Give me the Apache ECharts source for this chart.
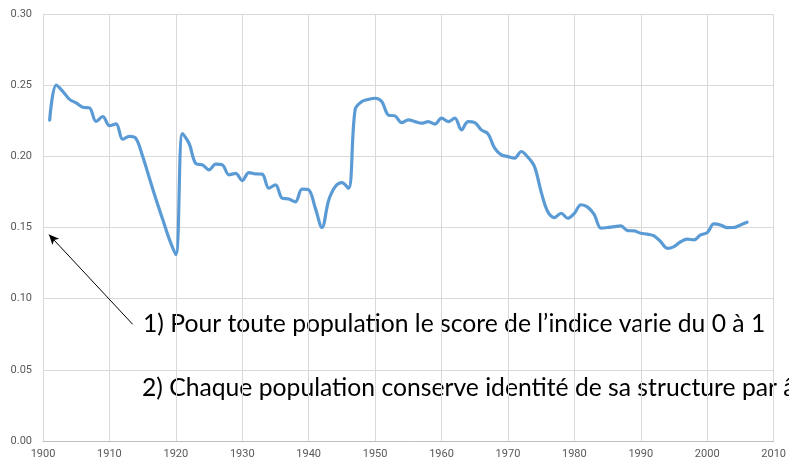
<!DOCTYPE html>
<html>
<head>
<meta charset="utf-8">
<script src="https://cdn.jsdelivr.net/npm/echarts@6/dist/echarts.min.js"></script>
<style>
html,body{margin:0;padding:0;background:#fff;}
#chart{width:789px;height:462px;}
</style>
</head>
<body>
<div id="chart"></div>
<script>
// ---- data ----
const years = [1901,1902,1903,1904,1905,1906,1907,1908,1909,1910,
  1911,1912,1913,1914,1915,1916,1917,1918,1919,1920,
  1921,1922,1923,1924,1925,1926,1927,1928,1929,1930,
  1931,1932,1933,1934,1935,1936,1937,1938,1939,1940,
  1941,1942,1943,1944,1945,1946,1947,1948,1949,1950,
  1951,1952,1953,1954,1955,1956,1957,1958,1959,1960,
  1961,1962,1963,1964,1965,1966,1967,1968,1969,1970,
  1971,1972,1973,1974,1975,1976,1977,1978,1979,1980,
  1981,1982,1983,1984,1985,1986,1987,1988,1989,1990,
  1991,1992,1993,1994,1995,1996,1997,1998,1999,2000,
  2001,2002,2003,2004,2005,2006];
const values = [0.2255,0.250,0.2455,0.240,0.2375,0.2345,0.234,0.2245,0.228,0.2215,
  0.2228,0.212,0.214,0.2125,0.200,0.185,0.170,0.156,0.142,0.131,
  0.216,0.209,0.195,0.194,0.1905,0.1945,0.194,0.187,0.188,0.183,
  0.1886,0.1877,0.1875,0.1776,0.180,0.1706,0.170,0.168,0.177,0.1765,
  0.1636,0.150,0.169,0.1787,0.1815,0.1775,0.233,0.2385,0.240,0.2408,
  0.2385,0.229,0.2284,0.2237,0.2256,0.2244,0.2233,0.2244,0.2226,0.2268,
  0.2244,0.2268,0.2186,0.2244,0.2237,0.2186,0.2158,0.2057,0.201,0.1998,
  0.1987,0.2034,0.1994,0.1928,0.175,0.161,0.157,0.160,0.1565,0.160,
  0.166,0.1643,0.159,0.1495,0.150,0.1506,0.1511,0.1478,0.1476,0.146,
  0.1453,0.1441,0.140,0.1354,0.1366,0.140,0.1418,0.1413,0.1448,0.1464,
  0.1525,0.1518,0.1499,0.150,0.1518,0.1537];
const xTickLabels = ['1900','1910','1920','1930','1940','1950','1960','1970','1980','1990','2000','2010'];
const yTickLabels = ['0.00','0.05','0.10','0.15','0.20','0.25','0.30'];
const note1 = '1) Pour toute population le score de l\u2019indice varie du 0 \u00e0 1';
const note2 = '2) Chaque population conserve identit\u00e9 de sa structure par \u00e2ge';
const arrowFrom = [1913.5, 0.082];
const arrowTo = [1900.9, 0.145];

// ---- chart ----
const chart = echarts.init(document.getElementById('chart'), null, {renderer:'canvas'});
const seriesData = years.map((y,i)=>[y, values[i]]);
const labelFont = 'Roboto, "Liberation Sans", sans-serif';

chart.setOption({
  animation:false,
  backgroundColor:'#ffffff',
  grid:{left:43, right:12, top:14, bottom:21, containLabel:false},
  xAxis:{
    type:'value', min:1900, max:2010, interval:10,
    axisLine:{show:true, lineStyle:{color:'#bfbfbf', width:1}},
    axisTick:{show:false},
    axisLabel:{color:'#595959', fontSize:11, fontFamily:labelFont, margin:8,
      formatter:(v)=>{const i=Math.round((v-1900)/10); return xTickLabels[i] ?? '';}},
    splitLine:{show:true, lineStyle:{color:'#d9d9d9', width:1}}
  },
  yAxis:{
    type:'value', min:0, max:0.3, interval:0.05,
    axisLine:{show:false},
    axisTick:{show:false},
    axisLabel:{color:'#595959', fontSize:11, fontFamily:labelFont, margin:11,
      formatter:(v)=>{const i=Math.round(v/0.05); return yTickLabels[i] ?? '';}},
    splitLine:{show:true, lineStyle:{color:'#d9d9d9', width:1}}
  },
  series:[{
    type:'line',
    data:seriesData,
    smooth:0.35,
    showSymbol:false,
    lineStyle:{color:'#5b9bd5', width:3.2, cap:'round', join:'round'},
    markLine:{
      silent:true,
      animation:false,
      label:{show:false},
      lineStyle:{color:'#000000', width:1, type:'solid'},
      symbolSize:[7,10],
      data:[[{coord:arrowFrom, symbol:'none'},{coord:arrowTo, symbol:'arrow'}]]
    }
  }],
  graphic:[
    {type:'text', x:143, y:324, silent:true,
     style:{text:note1, fill:'#000000', font:'24.7px Lato, Roboto, sans-serif', verticalAlign:'middle', align:'left'}},
    {type:'text', x:142, y:388, silent:true,
     style:{text:note2, fill:'#000000', font:'24.7px Lato, Roboto, sans-serif', verticalAlign:'middle', align:'left'}}
  ]
});
</script>
</body>
</html>
